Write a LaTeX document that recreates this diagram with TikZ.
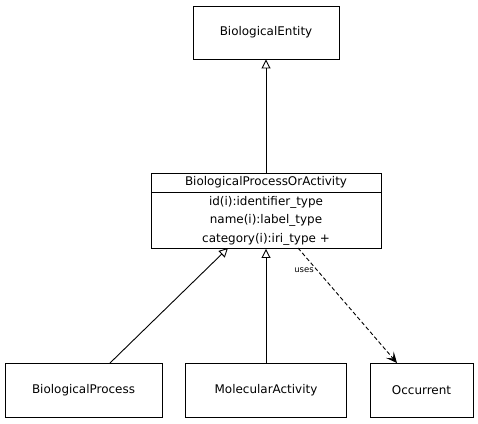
\documentclass[tikz,border=0pt]{standalone}
\usepackage{fontspec}
\setmainfont{DejaVu Sans}
\usetikzlibrary{arrows.meta}
\begin{document}
\begin{tikzpicture}[x=1bp,y=-1bp,
  box/.style={draw,line width=0.9bp,rectangle,inner sep=0pt,font=\fontsize{12}{18.5}\selectfont},
  gen/.style={line width=0.9bp,-{Triangle[open,length=9bp,width=9bp]}},
  dep/.style={line width=0.9bp,dashed,dash pattern=on 4bp off 2.5bp,-{Stealth[length=11bp,width=10bp,inset=5bp]}},
  lbl/.style={font=\fontsize{8.5}{10}\selectfont,inner sep=0pt}]
\useasboundingbox (0,0) rectangle (478,423);
\node[box,minimum width=146bp,minimum height=53bp] (be) at (266,32.5) {BiologicalEntity};
\node[box,minimum width=230bp,minimum height=19bp] (bpoaT) at (266,182.5) {BiologicalProcessOrActivity};
\node[box,minimum width=230bp,minimum height=56bp,align=center] (bpoaA) at (266,220.5)
  {id(i):identifier\_type\\name(i):label\_type\\category(i):iri\_type +};
\node[box,minimum width=157bp,minimum height=54bp] (bp) at (83.5,390) {BiologicalProcess};
\node[box,minimum width=161bp,minimum height=54bp] (ma) at (266,390) {MolecularActivity};
\node[box,minimum width=103bp,minimum height=54bp] (oc) at (421.5,390) {Occurrent};
\coordinate (bpTop) at (110,363);
\coordinate (genIn) at (228,248);
\coordinate (depOut) at (298,248);
\coordinate (depIn) at (397,363);
\draw[gen] (bpoaT.north) -- (be.south);
\draw[gen] (bpTop) -- (genIn);
\draw[gen] (ma.north) -- (bpoaA.south);
\draw[dep] (depOut) -- (depIn);
\node[lbl] (uses) at (304,270) {uses};
\end{tikzpicture}
\end{document}
